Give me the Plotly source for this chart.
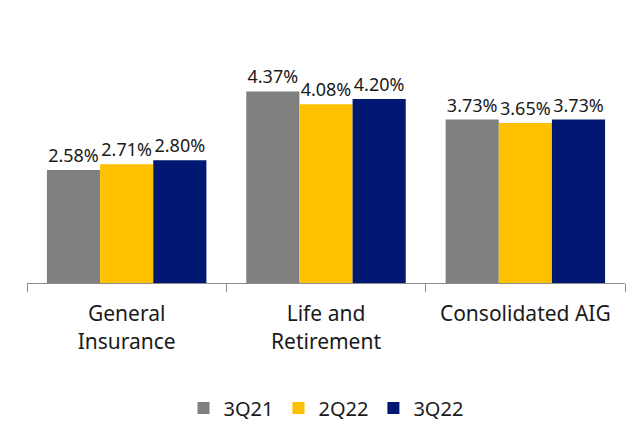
import plotly.graph_objects as go

categories = ["General<br>Insurance", "Life and<br>Retirement", "Consolidated AIG"]
series_names = ["3Q21", "2Q22", "3Q22"]
vals_3q21 = [2.58, 4.37, 3.73]
vals_2q22 = [2.71, 4.08, 3.65]
vals_3q22 = [2.80, 4.20, 3.73]
colors = ["#808080", "#FFC000", "#001871"]

fig = go.Figure()
for name, vals, col in zip(series_names, [vals_3q21, vals_2q22, vals_3q22], colors):
    fig.add_trace(go.Bar(
        x=categories, y=vals, name=name,
        marker=dict(color=col, line=dict(width=0)),
        text=[f"{v:.2f}%" for v in vals],
        textposition="outside",
        textfont=dict(size=18, color="#1a1a1a"),
        cliponaxis=False,
    ))

fig.update_layout(
    width=641, height=425,
    barmode="group", bargap=0.2, bargroupgap=0,
    plot_bgcolor="white", paper_bgcolor="white",
    font=dict(family="Noto Sans", size=19, color="#1a1a1a"),
    margin=dict(l=27, r=16, t=20, b=142, autoexpand=False),
    xaxis=dict(
        showline=True, linecolor="#8c8c8c", linewidth=1, automargin=False,
        ticks="outside", tickson="boundaries", ticklen=8, tickcolor="#8c8c8c",
        tickfont=dict(size=21), ticklabelstandoff=12,
    ),
    yaxis=dict(range=[0, 6], visible=False, automargin=False),
    legend=dict(orientation="h", x=0.5, xanchor="center", y=-0.475, yanchor="middle",
                font=dict(size=20), traceorder="normal"),
)

fig.write_html("out.html", config={"displayModeBar": False},
               post_script="document.body.style.margin='0';")
